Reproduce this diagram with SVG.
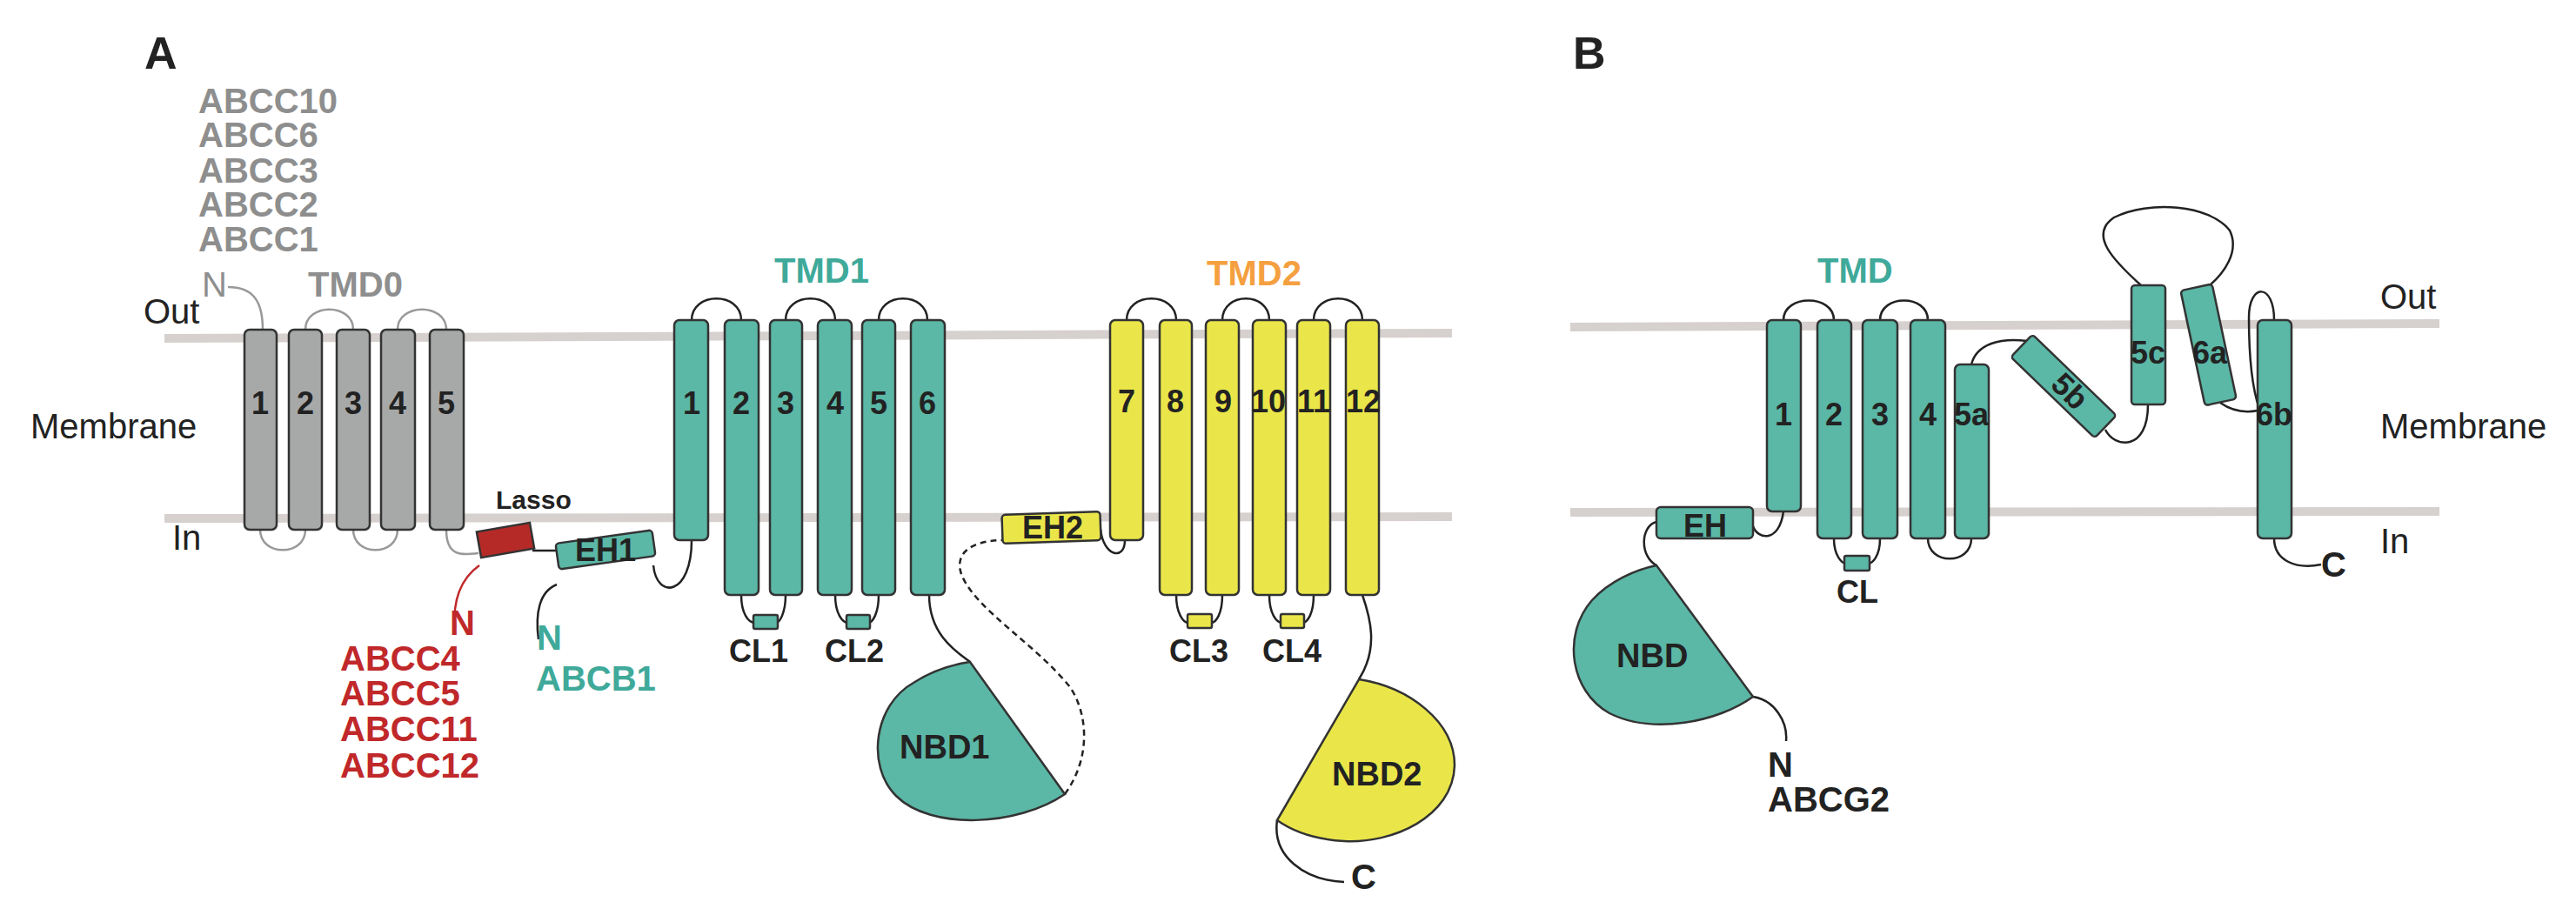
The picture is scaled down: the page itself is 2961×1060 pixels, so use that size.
<svg xmlns="http://www.w3.org/2000/svg" width="2961" height="1060" viewBox="0 0 2961 1060">
<style>
text{font-family:"Liberation Sans",Arial,sans-serif}
.b{font-weight:bold}
.mem{stroke:#D6D0CE;stroke-width:10;fill:none}
.h{stroke:#333;stroke-width:2.5}
.t{fill:#5BB7A6}.y{fill:#EAE64A}.g{fill:#A7A9A9}.r{fill:#B52A27}
.ln{fill:none;stroke:#222;stroke-width:2.5}
.lg{fill:none;stroke:#999;stroke-width:2.5}
.lr{fill:none;stroke:#C0282A;stroke-width:2.5}
.hl{font-weight:bold;font-size:36px;fill:#222;text-anchor:middle}
.lab{font-size:40px;fill:#222}
.gt{font-weight:bold;font-size:40px;fill:#8E8E8E}
.rt{font-weight:bold;font-size:40px;fill:#C0282A}
.tt{font-weight:bold;font-size:40px;fill:#3FA99A}
.kt{font-weight:bold;font-size:40px;fill:#222}
</style>
<rect width="2961" height="1060" fill="#fff"/>
<g id="membranes">
<line class="mem" x1="189" y1="389" x2="1669" y2="383"/>
<line class="mem" x1="189" y1="596" x2="1669" y2="594"/>
<line class="mem" x1="1805" y1="376" x2="2804" y2="372"/>
<line class="mem" x1="1805" y1="589" x2="2804" y2="588"/>
</g>
<g id="connectors">
<path class="lg" d="M262,330 C290,330 302,345 302,379"/>
<path class="lg" d="M351,379 C351,348 406,348 406,379"/>
<path class="lg" d="M457,379 C457,348 513,348 513,379"/>
<path class="lg" d="M299,609 C299,640 351,640 351,609"/>
<path class="lg" d="M406,609 C406,640 457,640 457,609"/>
<path class="lg" d="M513,609 C513,640 530,638 550,636"/>
<path class="lr" d="M551,650 C530,665 520,690 523,722"/>
<path class="ln" d="M612,633 L640,633"/>
<path class="ln" d="M640,672 C620,680 615,705 619,735"/>
<path class="ln" d="M751,650 C755,690 795,685 795,621"/>
<path class="ln" d="M795,368 C795,335 852,335 852,368"/>
<path class="ln" d="M903,368 C903,335 960,335 960,368"/>
<path class="ln" d="M1010,368 C1010,335 1066,335 1066,368"/>
<path class="ln" d="M852,684 C852,705 860,716 868,716"/>
<path class="ln" d="M903,684 C903,705 896,716 892,716"/>
<path class="ln" d="M960,684 C960,705 968,716 975,716"/>
<path class="ln" d="M1010,684 C1010,705 1003,716 998,716"/>
<path class="ln" d="M1068,684 C1068,730 1100,750 1115,761"/>
<path class="ln" d="M1224,913 C1255,870 1250,820 1230,790 C1190,740 1120,700 1105,660 C1098,640 1110,622 1152,621" stroke-dasharray="7,5"/>
<path class="ln" d="M1265,608 C1268,640 1293,645 1293,621"/>
<path class="ln" d="M1295,368 C1295,335 1352,335 1352,368"/>
<path class="ln" d="M1405,368 C1405,335 1459,335 1459,368"/>
<path class="ln" d="M1510,368 C1510,335 1566,335 1566,368"/>
<path class="ln" d="M1352,684 C1352,705 1360,716 1366,716"/>
<path class="ln" d="M1405,684 C1405,705 1398,716 1392,716"/>
<path class="ln" d="M1459,684 C1459,705 1467,716 1474,716"/>
<path class="ln" d="M1510,684 C1510,705 1503,716 1497,716"/>
<path class="ln" d="M1566,684 C1575,710 1585,745 1562,781"/>
<path class="ln" d="M1468,943 C1462,985 1500,1012 1545,1014"/>
<path class="ln" d="M2050,368 C2050,338 2108,338 2108,368"/>
<path class="ln" d="M2161,368 C2161,338 2216,338 2216,368"/>
<path class="ln" d="M2108,619 C2108,640 2118,648 2122,648"/>
<path class="ln" d="M2161,619 C2161,640 2152,648 2147,648"/>
<path class="ln" d="M2216,619 C2216,650 2266,650 2266,619"/>
<path class="ln" d="M2266,419 C2272,395 2300,388 2330,392"/>
<path class="ln" d="M2420,494 C2430,515 2469,520 2469,465"/>
<path class="ln" d="M2461,328 C2430,300 2400,270 2430,250 C2470,230 2540,235 2563,265 C2575,290 2555,315 2540,328"/>
<path class="ln" d="M2552,463 C2565,472 2580,475 2595,472"/>
<path class="ln" d="M2614,368 C2614,325 2585,325 2585,365 C2585,420 2590,450 2597,470"/>
<path class="ln" d="M2015,605 C2020,620 2045,625 2050,588"/>
<path class="ln" d="M1904,600 C1885,605 1885,640 1904,650"/>
<path class="ln" d="M2015,801 C2040,805 2055,830 2053,852"/>
<path class="ln" d="M2614,619 C2614,645 2640,655 2668,649"/>
</g>
<g id="tmd0">
<rect class="h g" x="281" y="379" width="37" height="230" rx="6"/>
<rect class="h g" x="332" y="379" width="38" height="230" rx="6"/>
<rect class="h g" x="387" y="379" width="38" height="230" rx="6"/>
<rect class="h g" x="438" y="379" width="39" height="230" rx="6"/>
<rect class="h g" x="494" y="379" width="39" height="230" rx="6"/>
<text class="hl" x="299" y="476">1</text><text class="hl" x="351" y="476">2</text><text class="hl" x="406" y="476">3</text><text class="hl" x="457" y="476">4</text><text class="hl" x="513" y="476">5</text>
</g>
<g id="lasso"><rect class="h r" x="550" y="606" width="62" height="30" transform="rotate(-10 581 621)"/></g>
<g id="eh1"><rect class="h t" x="640" y="617" width="112" height="30" rx="4" transform="rotate(-8 696 632)"/><text x="696" y="645" class="hl">EH1</text></g>
<g id="tmd1">
<rect class="h t" x="775" y="368" width="39" height="253" rx="6"/>
<rect class="h t" x="833" y="368" width="39" height="316" rx="6"/>
<rect class="h t" x="885" y="368" width="37" height="316" rx="6"/>
<rect class="h t" x="940" y="368" width="39" height="316" rx="6"/>
<rect class="h t" x="991" y="368" width="38" height="316" rx="6"/>
<rect class="h t" x="1047" y="368" width="39" height="316" rx="6"/>
<text class="hl" x="795" y="476">1</text><text class="hl" x="852" y="476">2</text><text class="hl" x="903" y="476">3</text><text class="hl" x="960" y="476">4</text><text class="hl" x="1010" y="476">5</text><text class="hl" x="1066" y="476">6</text>
<rect class="h t" x="866" y="707" width="28" height="16" rx="2"/>
<rect class="h t" x="973" y="707" width="27" height="16" rx="2"/>
</g>
<g id="nbd1"><path class="h t" d="M1115,761 L1224,913 C1170,950 1070,955 1030,915 C995,880 1005,810 1050,785 C1070,772 1095,764 1115,761 Z"/><text class="kt" x="1034" y="872" style="font-size:38px">NBD1</text></g>
<g id="eh2"><rect class="h y" x="1152" y="590" width="113" height="33" rx="4" transform="rotate(-2 1208 606)"/><text x="1210" y="619" class="hl">EH2</text></g>
<g id="tmd2">
<rect class="h y" x="1276" y="368" width="38" height="253" rx="6"/>
<rect class="h y" x="1333" y="368" width="37" height="316" rx="6"/>
<rect class="h y" x="1386" y="368" width="38" height="316" rx="6"/>
<rect class="h y" x="1440" y="368" width="38" height="316" rx="6"/>
<rect class="h y" x="1491" y="368" width="38" height="316" rx="6"/>
<rect class="h y" x="1547" y="368" width="38" height="316" rx="6"/>
<text class="hl" x="1295" y="474">7</text><text class="hl" x="1351" y="474">8</text><text class="hl" x="1406" y="474">9</text><text class="hl" x="1458" y="474">10</text><text class="hl" x="1510" y="474">11</text><text class="hl" x="1567" y="474">12</text>
<rect class="h y" x="1365" y="706" width="28" height="16" rx="2"/>
<rect class="h y" x="1472" y="706" width="27" height="16" rx="2"/>
</g>
<g id="nbd2"><path class="h y" d="M1562,781 C1620,790 1672,830 1672,880 C1670,940 1600,970 1545,967 C1510,965 1485,955 1468,943 Z"/><text class="kt" x="1531" y="903" style="font-size:38px">NBD2</text></g>
<g id="labelsA">
<text class="kt" x="166" y="79" style="font-size:52px">A</text>
<text class="gt" x="228" y="130">ABCC10</text><text class="gt" x="228" y="169">ABCC6</text><text class="gt" x="228" y="210">ABCC3</text><text class="gt" x="228" y="249">ABCC2</text><text class="gt" x="228" y="289">ABCC1</text>
<text class="gt" x="232" y="341" style="font-weight:normal">N</text>
<text class="gt" x="354" y="341">TMD0</text>
<text class="lab" x="165" y="372">Out</text><text class="lab" x="35" y="504">Membrane</text><text class="lab" x="198" y="632">In</text>
<text x="570" y="585" style="font-weight:bold;font-size:30px;fill:#222">Lasso</text>
<text class="rt" x="517" y="730">N</text>
<text class="rt" x="391" y="771">ABCC4</text><text class="rt" x="391" y="811">ABCC5</text><text class="rt" x="391" y="852">ABCC11</text><text class="rt" x="391" y="894">ABCC12</text>
<text class="tt" x="617" y="747">N</text><text class="tt" x="616" y="794">ABCB1</text>
<text class="tt" x="890" y="325">TMD1</text>
<text x="1387" y="328" style="font-weight:bold;font-size:40px;fill:#F5A040">TMD2</text>
<text class="kt" x="838" y="761" style="font-size:36px">CL1</text><text class="kt" x="948" y="761" style="font-size:36px">CL2</text>
<text class="kt" x="1344" y="761" style="font-size:36px">CL3</text><text class="kt" x="1451" y="761" style="font-size:36px">CL4</text>
<text class="kt" x="1553" y="1022">C</text>
</g>
<g id="tmdB">
<rect class="h t" x="2031" y="368" width="39" height="220" rx="6"/>
<rect class="h t" x="2089" y="368" width="39" height="251" rx="6"/>
<rect class="h t" x="2141" y="368" width="40" height="251" rx="6"/>
<rect class="h t" x="2196" y="368" width="40" height="251" rx="6"/>
<rect class="h t" x="2247" y="419" width="39" height="200" rx="6"/>
<rect class="h t" x="2305" y="426" width="134" height="36" rx="4" transform="rotate(44 2372 444)"/>
<rect class="h t" x="2450" y="328" width="39" height="137" rx="4"/>
<rect class="h t" x="2520" y="329" width="37" height="135" rx="4" transform="rotate(-12 2538 396)"/>
<rect class="h t" x="2595" y="368" width="39" height="251" rx="6"/>
<text class="hl" x="2050" y="489">1</text><text class="hl" x="2108" y="489">2</text><text class="hl" x="2161" y="489">3</text><text class="hl" x="2216" y="489">4</text><text class="hl" x="2266" y="489">5a</text>
<text class="hl" x="2379" y="462" transform="rotate(44 2379 450)">5b</text>
<text class="hl" x="2469" y="418">5c</text><text class="hl" x="2540" y="418">6a</text><text class="hl" x="2614" y="489">6b</text>
<rect class="h t" x="2120" y="639" width="29" height="17" rx="2"/>
</g>
<g id="ehB"><rect class="h t" x="1904" y="583" width="111" height="36" rx="5"/><text class="hl" x="1960" y="617">EH</text></g>
<g id="nbdB"><path class="h t" d="M1904,650 L2015,801 C1975,830 1900,845 1850,820 C1805,795 1795,730 1830,690 C1850,668 1880,655 1904,650 Z"/><text class="kt" x="1858" y="767" style="font-size:38px">NBD</text></g>
<g id="labelsB">
<text class="kt" x="1808" y="79" style="font-size:52px">B</text>
<text class="tt" x="2089" y="325">TMD</text>
<text class="kt" x="2111" y="693" style="font-size:36px">CL</text>
<text class="kt" x="2032" y="893">N</text><text class="kt" x="2032" y="933">ABCG2</text>
<text class="kt" x="2668" y="663">C</text>
<text class="lab" x="2736" y="355">Out</text><text class="lab" x="2736" y="504">Membrane</text><text class="lab" x="2736" y="636">In</text>
</g>
</svg>
